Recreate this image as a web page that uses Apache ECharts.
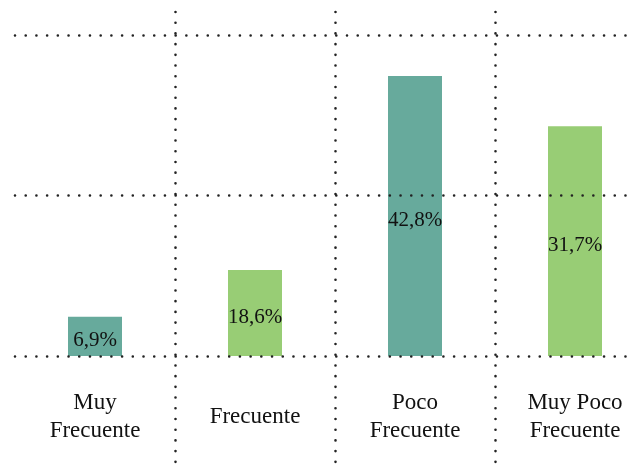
<!DOCTYPE html>
<html>
<head>
<meta charset="utf-8">
<script src="https://cdn.jsdelivr.net/npm/echarts@6/dist/echarts.min.js"></script>
<style>
  html, body { margin: 0; padding: 0; background: #fff; }
  #chart { width: 629px; height: 464px; }
</style>
</head>
<body>
<div id="chart"></div>
<script>
// categories and values
const categories = ['Muy\nFrecuente', 'Frecuente', 'Poco\nFrecuente', 'Muy Poco\nFrecuente'];
const barHeights = [6.1, 13.4, 43.6, 35.8];
const barLabels = ['6,9%', '18,6%', '42,8%', '31,7%'];
const barColors = ['#67aa9c', '#98cd75', '#67aa9c', '#98cd75'];

const font = 'Liberation Serif';
const dotted = {
  color: '#222',
  width: 2.6,
  type: [0.01, 10.7],
  cap: 'round'
};

let chart = echarts.init(document.getElementById('chart'));
let option = {
  animation: false,
  grid: [
    { left: 15, width: 640, top: 35, bottom: 108, outerBoundsMode: 'none', containLabel: false },
    { left: 15, width: 640, top: 12, bottom: 0, outerBoundsMode: 'none', containLabel: false }
  ],
  xAxis: [
    {
      type: 'category',
      gridIndex: 0,
      data: categories,
      axisLine: { show: false },
      axisTick: { show: false },
      splitLine: { show: false },
      axisLabel: {
        margin: 61,
        verticalAlign: 'middle',
        fontFamily: font,
        fontSize: 23,
        lineHeight: 28,
        color: '#111'
      }
    },
    {
      type: 'category',
      gridIndex: 1,
      data: categories,
      axisLine: { show: false },
      axisTick: { show: false },
      axisLabel: { show: false },
      splitLine: { show: true, showMinLine: false, showMaxLine: false, lineStyle: dotted }
    }
  ],
  yAxis: [
    {
      type: 'value',
      gridIndex: 0,
      min: 0,
      max: 50,
      interval: 25,
      z: 5,
      axisLine: { show: false },
      axisTick: { show: false },
      axisLabel: { show: false },
      splitLine: { show: true, lineStyle: dotted }
    },
    {
      type: 'value',
      gridIndex: 1,
      show: false,
      splitLine: { show: false }
    }
  ],
  series: [{
    type: 'bar',
    xAxisIndex: 0,
    yAxisIndex: 0,
    barWidth: 54,
    data: barHeights.map(function (v, i) {
      return { value: v, itemStyle: { color: barColors[i] } };
    }),
    label: {
      show: true,
      position: 'inside',
      offset: [0, 4],
      fontFamily: font,
      fontSize: 21,
      color: '#111',
      formatter: function (p) { return barLabels[p.dataIndex]; }
    }
  }]
};
chart.setOption(option);
</script>
</body>
</html>
